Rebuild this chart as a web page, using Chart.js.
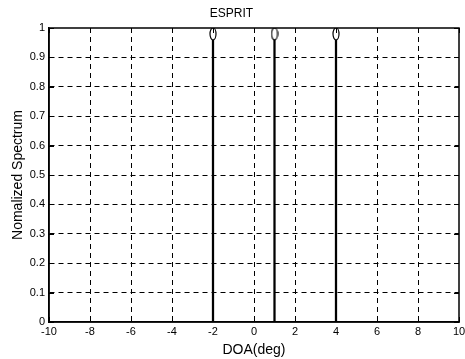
<html>
<head>
  <title>ESPRIT</title>
  <script src="https://cdn.jsdelivr.net/npm/chart.js@4.4.0/dist/chart.umd.min.js"></script>
  <style>
    body { margin: 0; background: #fff; }
    canvas { display: block; }
  </style>
</head>
<body>
  <canvas id="esprit" width="465" height="359"></canvas>
  <script>
    // estimated DOA peaks
    const doaDeg = [-2, 1, 4];
    const spectrum = [0.98, 0.98, 0.98];
    const xTicks = [-10, -8, -6, -4, -2, 0, 2, 4, 6, 8, 10];
    const yTicks = [0, 0.1, 0.2, 0.3, 0.4, 0.5, 0.6, 0.7, 0.8, 0.9, 1];

    const points = doaDeg.map((d, i) => ({ x: d, y: spectrum[i] }));

    // MATLAB-ish open marker (tall ellipse)
    const marker = document.createElement('canvas');
    marker.width = 8; marker.height = 14;
    const mctx = marker.getContext('2d');
    mctx.beginPath();
    mctx.ellipse(4, 7, 3, 6, 0, 0, Math.PI * 2);
    mctx.fillStyle = '#fff';
    mctx.fill();
    mctx.lineWidth = 1.2;
    mctx.strokeStyle = '#000';
    mctx.stroke();

    const font = 'Arial, "Liberation Sans", sans-serif';
    const gridColor = (ctx) => {
      const v = ctx.tick && ctx.tick.value;
      return (v === -10 || v === 10 || v === 0 && ctx.scale.axis === 'y' || v === 1) ? 'rgba(0,0,0,0)' : '#000';
    };
    const fmt = (v) => String(+Number(v).toFixed(1));

    // box + inward ticks like matlab axes
    const boxPlugin = {
      id: 'box',
      afterDraw(chart) {
        const { ctx, chartArea: a, scales } = chart;
        ctx.save();
        ctx.strokeStyle = '#000';
        ctx.lineWidth = 1;
        ctx.beginPath();
        xTicks.forEach(t => {
          const px = Math.round(scales.x.getPixelForValue(t)) + 0.5;
          ctx.moveTo(px, a.bottom); ctx.lineTo(px, a.bottom - 5);
          ctx.moveTo(px, a.top); ctx.lineTo(px, a.top + 5);
        });
        yTicks.forEach(t => {
          const py = Math.round(scales.y.getPixelForValue(t)) + 0.5;
          ctx.moveTo(a.left, py); ctx.lineTo(a.left + 5, py);
          ctx.moveTo(a.right, py); ctx.lineTo(a.right - 5, py);
        });
        ctx.stroke();
        ctx.lineWidth = 1.5;
        ctx.strokeRect(a.left, a.top, a.right - a.left, a.bottom - a.top);
        ctx.restore();
      }
    };

    new Chart(document.getElementById('esprit'), {
      type: 'scatter',
      data: {
        datasets: [
          {
            type: 'bar',
            data: points,
            backgroundColor: '#000',
            barThickness: 1.6,
            order: 2
          },
          {
            type: 'scatter',
            data: points,
            pointStyle: marker,
            pointRadius: 5,
            order: 1
          }
        ]
      },
      options: {
        responsive: false,
        animation: false,
        events: [],
        layout: { padding: { top: 0, right: 2, bottom: 0, left: 0 } },
        plugins: {
          legend: { display: false },
          tooltip: { enabled: false },
          title: {
            display: true,
            text: 'ESPRIT',
            color: '#000',
            font: { family: font, size: 12, weight: 'normal' },
            padding: { top: 6, bottom: 7.6 }
          }
        },
        scales: {
          x: {
            type: 'linear',
            min: -10, max: 10,
            offset: false,
            afterBuildTicks: (s) => { s.ticks = xTicks.map(v => ({ value: v })); },
            afterFit: (s) => { s.height = 37; s.paddingLeft = 0; s.paddingRight = 0; },
            ticks: { color: '#000', padding: 3, maxRotation: 0, font: { family: font, size: 11 }, callback: fmt },
            grid: { color: gridColor, lineWidth: 1, offset: false, drawTicks: false, tickLength: 0 },
            border: { display: true, color: '#000', width: 1.5, dash: [5, 4] },
            title: {
              display: true, text: 'DOA(deg)', color: '#000',
              font: { family: font, size: 14 }, padding: { top: 0, bottom: 0 }
            }
          },
          y: {
            min: 0, max: 1,
            afterBuildTicks: (s) => { s.ticks = yTicks.map(v => ({ value: v })); },
            afterFit: (s) => { s.width = 49; s.paddingTop = 0; s.paddingBottom = 0; },
            ticks: { color: '#000', padding: 4, font: { family: font, size: 11 }, callback: fmt },
            grid: { color: gridColor, lineWidth: 1, offset: false, drawTicks: false, tickLength: 0 },
            border: { display: true, color: '#000', width: 1.5, dash: [5, 4] },
            title: {
              display: true, text: 'Nomalized Spectrum', color: '#000',
              font: { family: font, size: 14 }, padding: { top: 10, bottom: 0 }
            }
          }
        }
      },
      plugins: [boxPlugin]
    });
  </script>
</body>
</html>
